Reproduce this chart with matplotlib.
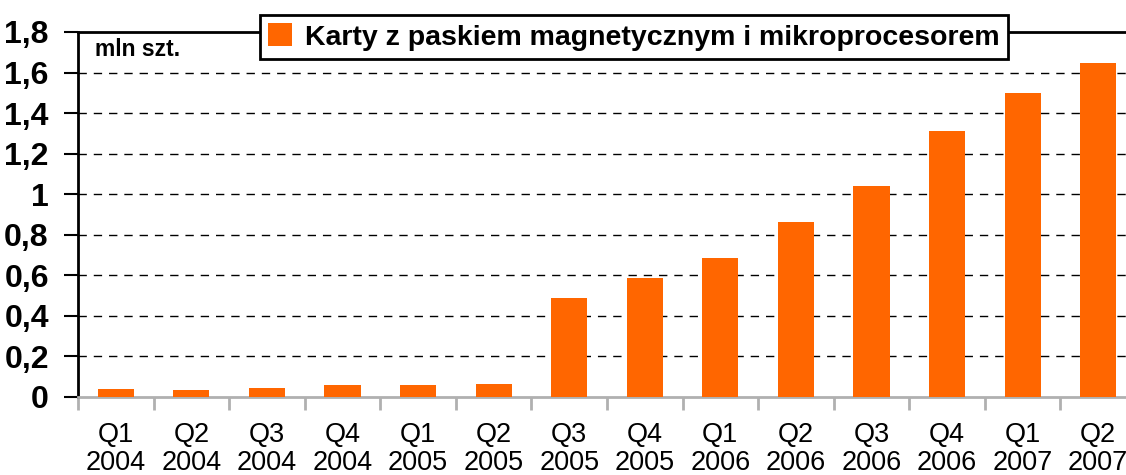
import matplotlib
matplotlib.use("Agg")
import matplotlib.pyplot as plt
from matplotlib.patches import Patch
import numpy as np

plt.rcParams['font.family'] = ['Liberation Sans', 'DejaVu Sans']

quarters = ["Q1", "Q2", "Q3", "Q4", "Q1", "Q2", "Q3", "Q4", "Q1", "Q2", "Q3", "Q4", "Q1", "Q2"]
years = ["2004", "2004", "2004", "2004", "2005", "2005", "2005", "2005",
         "2006", "2006", "2006", "2006", "2007", "2007"]
values = [0.04, 0.033, 0.045, 0.06, 0.06, 0.065, 0.49, 0.585, 0.685, 0.862, 1.04, 1.31, 1.50, 1.645]
series_name = "Karty z paskiem magnetycznym i mikroprocesorem"
unit_label = "mln szt."
yticks = [0, 0.2, 0.4, 0.6, 0.8, 1.0, 1.2, 1.4, 1.6, 1.8]
ytick_labels = ["0", "0,2", "0,4", "0,6", "0,8", "1", "1,2", "1,4", "1,6", "1,8"]

color = "#FF6600"

fig = plt.figure(figsize=(11.26, 4.75), dpi=100)
ax = fig.add_axes([78/1126, 1-397/475, (1136-78)/1126, (397-32)/475])

x = np.arange(len(values))
ax.bar(x, values, width=0.48, color=color, zorder=3)

ax.set_xlim(-0.5, len(values)-0.5)
ax.set_ylim(0, 1.8)

for v in yticks[1:-1]:
    ax.axhline(v, color="black", lw=1.0, ls=(0, (6, 5)), zorder=1)

ax.set_yticks(yticks)
ax.set_yticklabels(ytick_labels, fontsize=23, fontweight="bold")
ax.tick_params(axis="y", length=10, width=1.5, pad=11, color="black")

labels = [f"{q}\n{y}" for q, y in zip(quarters, years)]
ax.set_xticks(x)
ax.set_xticklabels(labels, fontsize=19.5, linespacing=1.1)
ax.tick_params(axis="x", which="major", length=0, pad=18)
ax.set_xticks(np.arange(-0.5, len(values), 1.0), minor=True)
ax.tick_params(axis="x", which="minor", length=9, width=2, color="#b0b0b0")

ax.spines["left"].set_linewidth(2)
ax.spines["left"].set_color("black")
ax.spines["top"].set_linewidth(2)
ax.spines["top"].set_color("black")
ax.spines["right"].set_visible(False)
ax.spines["bottom"].set_color("#b0b0b0")
ax.spines["bottom"].set_linewidth(2)

ax.text(95/1126, 1-50/475, unit_label, transform=fig.transFigure, fontsize=16.5,
        fontweight="bold", ha="left", va="center")

handle = Patch(facecolor=color, edgecolor="none")
leg = fig.legend([handle], [series_name], loc="center",
                 bbox_to_anchor=(634/1126, 1-37/475),
                 prop={"size": 20.5, "weight": "bold"}, frameon=True,
                 fancybox=False, handlelength=0.85, handleheight=0.85,
                 handletextpad=0.45, borderpad=0.3, borderaxespad=0)
leg.get_frame().set_edgecolor("black")
leg.get_frame().set_linewidth(2)
leg.get_frame().set_facecolor("white")
leg.get_frame().set_alpha(1)
leg.set_zorder(10)

fig.savefig("out.png", dpi=100)
